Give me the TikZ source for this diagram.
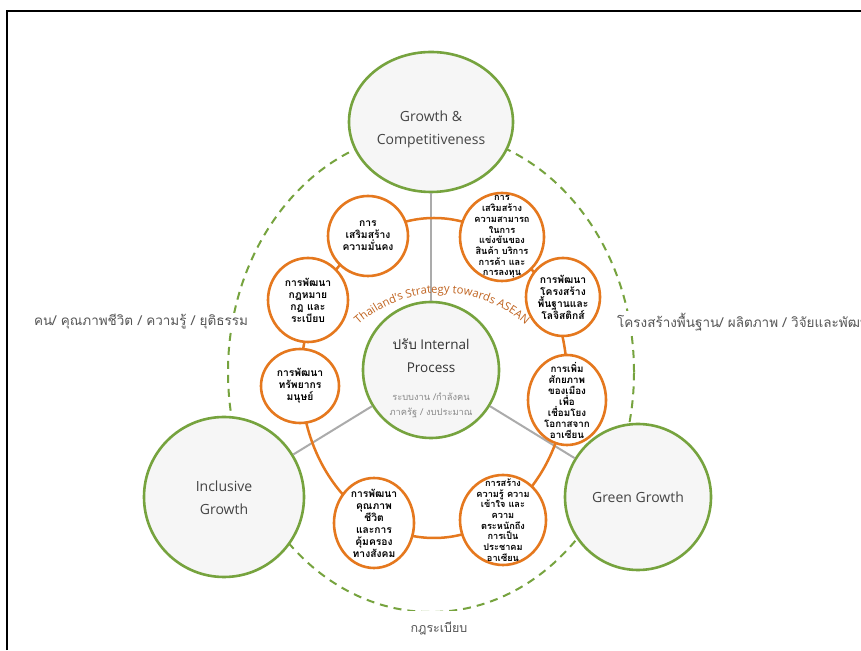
\documentclass[tikz,border=0pt]{standalone}
\usepackage{fontspec}
\setmainfont{Open Sans}
\newfontfamily\thai[Script=Thai]{Loma}
\usetikzlibrary{shapes.geometric,decorations.text}
\definecolor{gg}{HTML}{76A33E}
\definecolor{og}{HTML}{E5781E}
\definecolor{brn}{HTML}{C0631F}
\definecolor{bgc}{HTML}{F6F6F6}
\definecolor{txt}{HTML}{444444}
\definecolor{lbl}{HTML}{555555}
\definecolor{sub}{HTML}{8A8A8A}
\definecolor{gln}{HTML}{ABABAB}
\begin{document}
\begin{tikzpicture}[x=1pt,y=1pt,
  bigc/.style={circle, draw=gg, line width=2.6pt, fill=bgc, inner sep=0pt},
  bigtext/.style={align=center, text=txt, font=\fontsize{14}{23}\selectfont, inner sep=0pt},
  smallc/.style={ellipse, draw=og, line width=2.6pt, fill=white, inner sep=0pt},
  ctext/.style={align=center, inner sep=0pt, text=black, font=\thai\bfseries\fontsize{10.3}{12}\selectfont},
  ctextmd/.style={align=center, inner sep=0pt, text=black, font=\thai\bfseries\fontsize{9.8}{11}\selectfont},
  ctextsm/.style={align=center, inner sep=0pt, text=black, font=\thai\bfseries\fontsize{9.2}{10.7}\selectfont},
  lblst/.style={text=lbl, font=\thai\fontsize{13.5}{15}\selectfont, fill=white, inner sep=2pt},
  gline/.style={draw=gln, line width=2pt},
  ring/.style={draw=og, line width=2.5pt},
  dashring/.style={draw=gg, line width=2pt, dash pattern=on 8pt off 6pt}
]
\useasboundingbox (0,0) rectangle (861,650);
\clip (0,0) rectangle (861,650);
\fill[white] (0,0) rectangle (861,650);
% frame
\draw[line width=1.2pt] (7,0) -- (7,639) -- (861,639);
% dashed outer ring
\draw[dashring] (431,278) ellipse[x radius=203, y radius=240];
% big circles
\node[bigc, ellipse, minimum width=164, minimum height=140] (growth) at (431,528) {};
\node[bigtext] (growtht) at (431,521) {Growth \&\\Competitiveness};
\node[bigc, minimum size=160] (incl) at (224,153) {};
\node[bigtext] (inclt) at (224,152) {Inclusive\\Growth};
\node[bigc, minimum size=146] (green) at (638,153) {};
\node[bigtext] (greent) at (638,153) {Green Growth};
\node[bigc, minimum size=136] (ctr) at (431,280) {};
\node[inner sep=0pt, text=black!80, font=\fontsize{13.5}{23}\selectfont, align=center] (ctrt) at (431,294) {{\thai ปรับ} Internal\\Process};
\node[inner sep=0pt, text=sub, font=\thai\fontsize{9.3}{15}\selectfont, align=center] (ctrs) at (431,245) {ระบบงาน /กำลังคน\\ภาครัฐ / งบประมาณ};
% labels
\node[lblst] (lleft) at (141,328) {คน/ คุณภาพชีวิต / ความรู้ / ยุติธรรม};
\node[lblst, anchor=west] (lright) at (615,328) {โครงสร้างพื้นฐาน/ ผลิตภาพ / วิจัยและพัฒนา};
\node[lblst, font=\thai\fontsize{12.5}{14}\selectfont, minimum width=100, minimum height=34] (lbot) at (439,22) {กฎระเบียบ};
% spokes
\draw[gline] (ctr) -- (growth);
\draw[gline] (ctr) -- (incl);
\draw[gline] (ctr) -- (green);
% orange ring
\draw[ring] (434,272) ellipse[x radius=133, y radius=160];
% small circles
\node[smallc, minimum width=80, minimum height=80] (c1) at (368,414) {};
\node[ctext] at (c1) {การ\\เสริมสร้าง\\ความมั่นคง};
\node[smallc, minimum width=84, minimum height=88] (c2) at (502,413) {};
\node[ctextsm] at (c2) {การ\\เสริมสร้าง\\ความสามารถ\\ในการ\\แข่งขันของ\\สินค้า บริการ\\การค้า และ\\การลงทุน};
\node[smallc, minimum width=74, minimum height=78] (c3) at (563,353) {};
\node[ctext] at (c3) {การพัฒนา\\โครงสร้าง\\พื้นฐานและ\\โลจิสติกส์};
\node[smallc, minimum width=78, minimum height=90] (c4) at (567,250) {};
\node[ctextmd] at (c4) {การเพิ่ม\\ศักยภาพ\\ของเมือง\\เพื่อ\\เชื่อมโยง\\โอกาสจาก\\อาเซียน};
\node[smallc, minimum width=86, minimum height=90] (c5) at (503,130) {};
\node[ctextsm] at (c5) {การสร้าง\\ความรู้ ความ\\เข้าใจ และ\\ความ\\ตระหนักถึง\\การเป็น\\ประชาคม\\อาเซียน};
\node[smallc, minimum width=80, minimum height=90] (c6) at (374,127) {};
\node[ctext] at (c6) {การพัฒนา\\คุณภาพ\\ชีวิต\\และการ\\คุ้มครอง\\ทางสังคม};
\node[smallc, minimum width=78, minimum height=74] (c7) at (300,264) {};
\node[ctext] at (c7) {การพัฒนา\\ทรัพยากร\\มนุษย์};
\node[smallc, minimum width=80, minimum height=84] (c8) at (308,350) {};
\node[ctext] at (c8) {การพัฒนา\\กฎหมาย\\กฎ และ\\ระเบียบ};
% curved title
\path[decorate, decoration={text along path, text align=center,
  text={|\fontsize{11.3}{12}\selectfont\color{brn}|Thailand's Strategy towards ASEAN}}]
  (442,232) ++(132:125) arc[start angle=132, end angle=48, radius=125];
\end{tikzpicture}
\end{document}
